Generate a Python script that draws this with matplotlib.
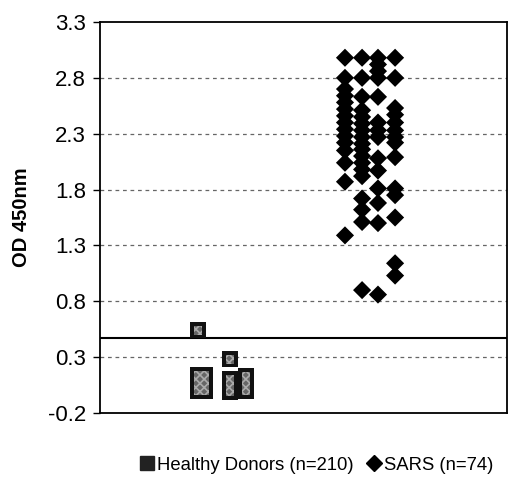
import matplotlib
matplotlib.use("Agg")
import matplotlib.pyplot as plt
from matplotlib.lines import Line2D
import numpy as np

plt.rcParams['font.family'] = ['Liberation Sans', 'DejaVu Sans']
plt.rcParams['hatch.linewidth'] = 1.2

# ---- data ----
yticks = [-0.2, 0.3, 0.8, 1.3, 1.8, 2.3, 2.8, 3.3]
cutoff = 0.47

healthy_label = "Healthy Donors (n=210)"
sars_label = "SARS (n=74)"

# healthy donors, by jitter column
healthy_c1 = [0.54, 0.00, 0.03, 0.06, 0.09, 0.12, 0.14]
healthy_c2 = [0.00, 0.03, 0.06, 0.09, 0.12, 0.14]
healthy_c3 = [0.28, -0.01, 0.02, 0.05, 0.08, 0.10]
healthy_c4 = [0.00, 0.03, 0.06, 0.09, 0.12, 0.13]

# SARS patients, by jitter column
sars_c1 = [2.98, 2.80, 2.70, 2.64, 2.58, 2.52, 2.46, 2.40, 2.34, 2.28, 2.22,
           2.15, 2.04, 1.87, 1.39]
sars_c2 = [2.98, 2.80, 2.63, 2.51, 2.45, 2.39, 2.33, 2.27, 2.21, 2.16, 2.10,
           2.04, 1.98, 1.92, 1.72, 1.62, 1.51, 0.90]
sars_c3 = [2.98, 2.92, 2.86, 2.80, 2.63, 2.40, 2.33, 2.27, 2.08, 1.97, 1.81,
           1.68, 1.50, 0.86]
sars_c4 = [2.98, 2.80, 2.53, 2.47, 2.40, 2.33, 2.27, 2.22, 2.09, 1.81, 1.75,
           1.55, 1.14, 1.03]

healthy_cols = [healthy_c1, healthy_c2, healthy_c3, healthy_c4]
sars_cols = [sars_c1, sars_c2, sars_c3, sars_c4]
healthy_offsets = [-0.147, -0.10, 0.067, 0.173]
sars_offsets = [-0.167, -0.053, 0.053, 0.167]

# ---- figure ----
fig = plt.figure(figsize=(5.09, 4.79), dpi=100)
ax = fig.add_axes([100/509, 1-413/479, 407/509, 391/479])

ax.set_ylim(-0.2, 3.3)
ax.set_xlim(0.2, 2.913)

for t in yticks[1:-1]:
    ax.axhline(t, color='#666666', lw=0.9, ls=(0, (3, 3)), zorder=1)
ax.axhline(cutoff, color='black', lw=1.5, zorder=2)

for off, vals in zip(healthy_offsets, healthy_cols):
    x = np.full(len(vals), 1 + off)
    ax.scatter(x, vals, marker='s', s=135, c='#111111', edgecolors='none',
               zorder=3)
    ax.scatter(x, vals, marker='s', s=40, c='#666666', edgecolors='#aaaaaa',
               linewidths=0, hatch='xxxx', zorder=4)

for off, vals in zip(sars_offsets, sars_cols):
    x = np.full(len(vals), 2 + off)
    ax.scatter(x, vals, marker='D', s=85, c='black', edgecolors='none',
               zorder=5)

ax.set_xticks([])
ax.set_yticks(yticks)
ax.set_yticklabels([f"{t:.1f}" for t in yticks], fontsize=16)
ax.tick_params(axis='y', direction='out', length=5, width=1, pad=5)
for sp in ax.spines.values():
    sp.set_linewidth(1.3)
    sp.set_color('black')

ax.set_ylabel("OD 450nm", fontsize=14.5, fontweight='bold', labelpad=12)

handles = [
    Line2D([], [], marker='s', ls='none', markersize=10,
           markerfacecolor='#222222', markeredgecolor='#222222'),
    Line2D([], [], marker='D', ls='none', markersize=8,
           markerfacecolor='black', markeredgecolor='black'),
]
fig.legend(handles, [healthy_label, sars_label], loc='center',
           bbox_to_anchor=(0.622, 1-465/479), ncol=2, frameon=False,
           fontsize=13.3, handlelength=0.8, handletextpad=0.15,
           columnspacing=0.7, borderaxespad=0)

fig.savefig("out.png", dpi=100)
